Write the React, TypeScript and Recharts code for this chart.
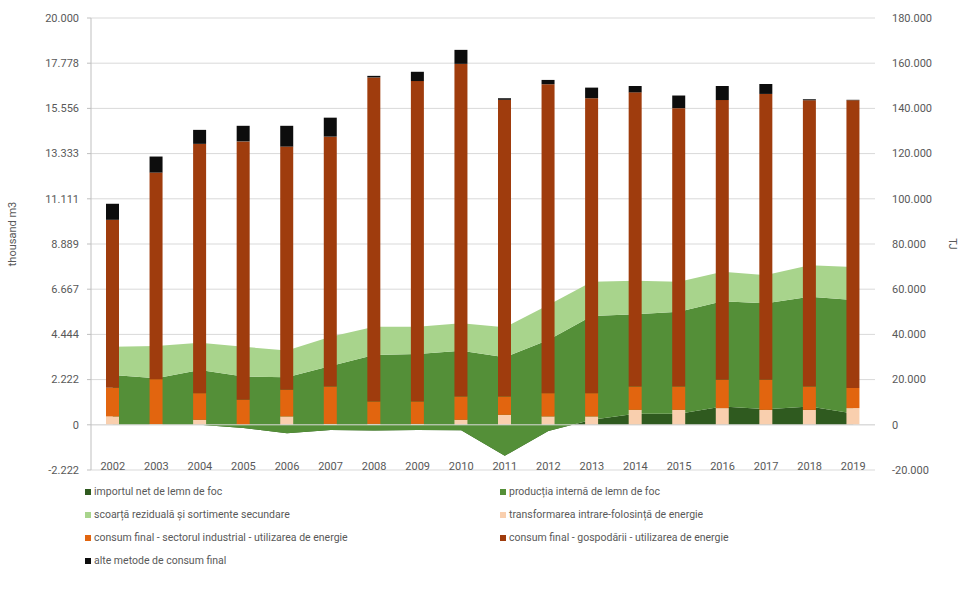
import React from 'react';
import {
  ComposedChart, Area, Bar, XAxis, YAxis, CartesianGrid, ReferenceLine, Legend,
} from 'recharts';

const years = ['2002', '2003', '2004', '2005', '2006', '2007', '2008', '2009', '2010', '2011', '2012', '2013', '2014', '2015', '2016', '2017', '2018', '2019'];

// thousand m3 (left axis, stacked areas)
const importNet = [0, 0, 0, -160, -410, -250, -280, -250, -270, -1520, -300, 250, 540, 540, 900, 770, 900, 550];
const productie = [2450, 2290, 2700, 2530, 2750, 3140, 3710, 3730, 3910, 4840, 4470, 5100, 4900, 5020, 5180, 5200, 5390, 5580];
const scoarta = [1390, 1580, 1340, 1470, 1310, 1440, 1390, 1340, 1350, 1470, 1720, 1680, 1640, 1470, 1440, 1390, 1560, 1630];

// TJ (right axis, stacked bars)
const transformare = [3700, 300, 2200, 0, 3700, 400, 400, 400, 2200, 4400, 3700, 3700, 6600, 6600, 7400, 6600, 6600, 7400];
const industrial = [12700, 19900, 11800, 11100, 11800, 16500, 9900, 9900, 10300, 8100, 10300, 10300, 10300, 10300, 12500, 13300, 10300, 8900];
const gospodarii = [74300, 91400, 110300, 114300, 107600, 110600, 143400, 141800, 147200, 131300, 136700, 130500, 130200, 123200, 123800, 126500, 126700, 127300];
const alte = [7100, 7100, 6200, 6900, 9200, 8400, 700, 4100, 6200, 700, 1900, 4700, 2800, 5600, 6200, 4400, 450, 200];

const leftTicks = [-2222.22, 0, 2222.22, 4444.44, 6666.67, 8888.89, 11111.11, 13333.33, 15555.56, 17777.78, 20000];
const rightTicks = [-20000, 0, 20000, 40000, 60000, 80000, 100000, 120000, 140000, 160000, 180000];

const names = {
  importNet: 'importul net de lemn de foc',
  productie: 'producția internă de lemn de foc',
  scoarta: 'scoarță reziduală și sortimente secundare',
  transformare: 'transformarea intrare-folosință de energie',
  industrial: 'consum final - sectorul industrial - utilizarea de energie',
  gospodarii: 'consum final - gospodării - utilizarea de energie',
  alte: 'alte metode de consum final',
};

const colors = {
  importNet: '#2f5a1f',
  productie: '#548f38',
  scoarta: '#a8d48c',
  transformare: '#f9cfae',
  industrial: '#e2650f',
  gospodarii: '#9f3c0d',
  alte: '#0d0d0d',
};

const legendLeft = ['importNet', 'scoarta', 'industrial', 'alte'];
const legendRight = ['productie', 'transformare', 'gospodarii'];

const data = years.map((y, i) => ({
  year: y,
  importNet: importNet[i],
  productie: productie[i],
  scoarta: scoarta[i],
  transformare: transformare[i],
  industrial: industrial[i],
  gospodarii: gospodarii[i],
  alte: alte[i],
}));

const FONT = 'Roboto, "Open Sans", sans-serif';
const TXT = '#595959';

const fmt = (v: number) => {
  const r = Math.round(v);
  const s = Math.abs(r).toString().replace(/\B(?=(\d{3})+(?!\d))/g, '.');
  return (r < 0 ? '-' : '') + s;
};

const LeftTick = (props: any) => {
  const { y, payload } = props;
  return (
    <text x={79} y={y} dy="0.35em" textAnchor="end" fontSize={11} fontFamily={FONT} fill={TXT}>
      {fmt(payload.value)}
    </text>
  );
};

const RightTick = (props: any) => {
  const { y, payload } = props;
  return (
    <text x={892} y={y} dy="0.35em" textAnchor="start" fontSize={11} fontFamily={FONT} fill={TXT}>
      {fmt(payload.value)}
    </text>
  );
};

const BottomTick = (props: any) => {
  const { x, payload } = props;
  return (
    <text x={x} y={470} textAnchor="middle" fontSize={11} fontFamily={FONT} fill={TXT}>
      {payload.value}
    </text>
  );
};

const LegendItem = ({ k }: { k: string }) => (
  <div style={{ display: 'flex', alignItems: 'center', height: 23, whiteSpace: 'nowrap' }}>
    <span style={{ display: 'inline-block', width: 6, height: 6, background: (colors as any)[k], marginRight: 3 }} />
    <span>{(names as any)[k]}</span>
  </div>
);

const CustomLegend = () => (
  <div style={{ display: 'flex', fontFamily: FONT, fontSize: 10.5, color: TXT }}>
    <div style={{ width: 415 }}>
      {legendLeft.map((k) => <LegendItem key={k} k={k} />)}
    </div>
    <div>
      {legendRight.map((k) => <LegendItem key={k} k={k} />)}
    </div>
  </div>
);

export default function App() {
  return (
    <div style={{ position: 'absolute', left: 0, top: 0, width: 962, height: 600, background: '#fff' }}>
      <ComposedChart
        width={962}
        height={600}
        data={data}
        margin={{ top: 18, right: 0, bottom: 100, left: 0 }}
        barSize={13}
      >
        <CartesianGrid yAxisId="left" vertical={false} stroke="#d9d9d9" />
        <XAxis dataKey="year" height={30} axisLine={false} tickLine={false} tick={<BottomTick />} interval={0} />
        <YAxis
          yAxisId="left"
          width={91}
          domain={[-2222.22, 20000]}
          ticks={leftTicks}
          allowDataOverflow
          axisLine={{ stroke: '#bfbfbf' }}
          tickLine={{ stroke: '#bfbfbf' }}
          tickSize={4}
          tick={<LeftTick />}
          label={{ value: 'thousand m3', angle: -90, position: 'insideLeft', offset: 0, dx: 12, dy: -10, style: { fontSize: 11, fontFamily: FONT, fill: TXT, textAnchor: 'middle' } }}
        />
        <YAxis
          yAxisId="right"
          orientation="right"
          width={87}
          domain={[-20000, 180000]}
          ticks={rightTicks}
          allowDataOverflow
          axisLine={false}
          tickLine={false}
          tick={<RightTick />}
          label={{ value: 'TJ', angle: 90, position: 'insideRight', offset: 0, dx: -9, style: { fontSize: 11, fontFamily: FONT, fill: TXT, textAnchor: 'middle' } }}
        />
        <Area yAxisId="left" type="linear" dataKey="importNet" name={names.importNet} stackId="a" stroke="none" fill={colors.importNet} fillOpacity={1} isAnimationActive={false} />
        <Area yAxisId="left" type="linear" dataKey="productie" name={names.productie} stackId="a" stroke="none" fill={colors.productie} fillOpacity={1} isAnimationActive={false} />
        <Area yAxisId="left" type="linear" dataKey="scoarta" name={names.scoarta} stackId="a" stroke="none" fill={colors.scoarta} fillOpacity={1} isAnimationActive={false} />
        <ReferenceLine yAxisId="left" y={0} stroke="#d9d9d9" strokeWidth={1} />
        <Bar yAxisId="right" dataKey="transformare" name={names.transformare} stackId="b" fill={colors.transformare} isAnimationActive={false} />
        <Bar yAxisId="right" dataKey="industrial" name={names.industrial} stackId="b" fill={colors.industrial} isAnimationActive={false} />
        <Bar yAxisId="right" dataKey="gospodarii" name={names.gospodarii} stackId="b" fill={colors.gospodarii} isAnimationActive={false} />
        <Bar yAxisId="right" dataKey="alte" name={names.alte} stackId="b" fill={colors.alte} isAnimationActive={false} />
        <Legend
          layout="horizontal"
          verticalAlign="middle"
          align="center"
          wrapperStyle={{ position: 'absolute', top: 480, left: 85, width: 820, height: 100 }}
          content={<CustomLegend />}
        />
      </ComposedChart>
    </div>
  );
}
